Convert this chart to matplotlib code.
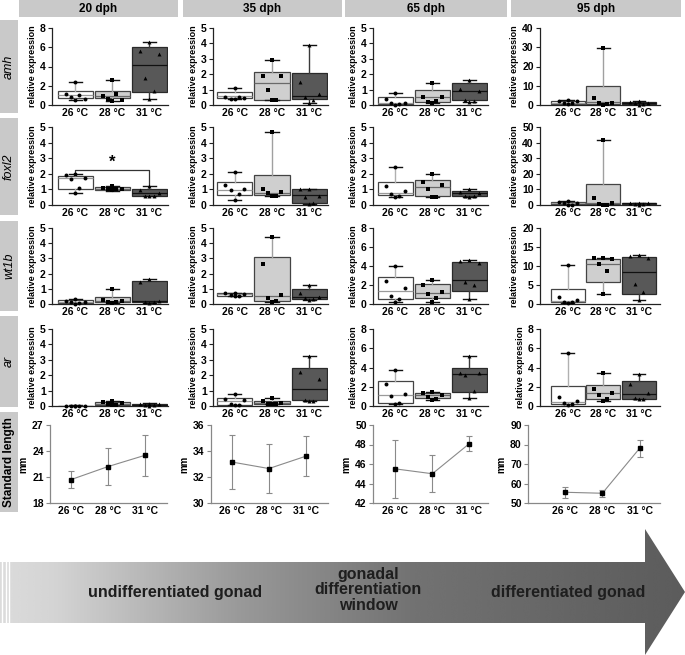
import numpy as np
import matplotlib.pyplot as plt
from matplotlib.patches import Polygon, Rectangle

plt.rcParams['font.family'] = ['Liberation Sans', 'DejaVu Sans']

W, H = 685, 655

ages = ['20 dph', '35 dph', '65 dph', '95 dph']
genes = ['amh', 'foxl2', 'wt1b', 'ar']
temps = ['26 °C', '28 °C', '31 °C']

# box stats per age, per temperature: (whisker low, q1, median, q3, whisker high)
amh_box = [
    [(0.55, 0.75, 1.0, 1.5, 2.4), (0.45, 0.7, 0.95, 1.5, 2.55), (0.65, 1.4, 4.15, 6.0, 6.5)],
    [(0.4, 0.45, 0.6, 0.85, 1.1), (0.3, 0.3, 1.45, 2.15, 2.9), (0.15, 0.4, 0.6, 2.1, 3.9)],
    [(0.0, 0.05, 0.15, 0.5, 0.8), (0.15, 0.2, 0.55, 1.0, 1.4), (0.2, 0.3, 0.9, 1.4, 1.65)],
    [(0.0, 0.5, 1.0, 2.2, 2.5), (0.0, 0.5, 1.5, 10.0, 29.5), (0.2, 0.5, 1.0, 1.5, 2.3)],
]
amh_pts = [
    [[2.4, 1.1, 0.6, 0.8, 1.0, 0.55], [2.55, 0.9, 0.5, 0.6, 1.1, 0.45], [6.5, 5.6, 5.3, 2.8, 1.5, 0.65]],
    [[1.1, 0.55, 0.45, 0.4, 0.5, 0.4], [2.9, 1.9, 1.9, 1.0, 0.3, 0.3], [3.9, 1.5, 0.7, 0.55, 0.3, 0.15]],
    [[0.8, 0.4, 0.15, 0.1, 0.05, 0.0], [1.4, 0.55, 0.5, 0.2, 0.25, 0.15], [1.65, 1.05, 0.9, 0.3, 0.25, 0.2]],
    [[2.5, 2.3, 2.0, 1.0, 0.8, 0.5], [29.5, 3.8, 1.2, 1.0, 0.5, 0.2], [2.3, 1.5, 1.0, 0.8, 0.3, 0.2]],
]
amh_ymax = [8, 5, 5, 40]
amh_step = [2, 1, 1, 10]

foxl2_box = [
    [(0.8, 1.05, 1.75, 1.85, 2.0), (0.9, 0.95, 1.0, 1.15, 1.2), (0.55, 0.55, 0.75, 1.0, 1.2)],
    [(0.3, 0.65, 0.95, 1.5, 2.1), (0.6, 0.65, 0.8, 1.9, 4.7), (0.05, 0.15, 0.65, 1.0, 1.05)],
    [(0.5, 0.65, 0.8, 1.5, 2.45), (0.5, 0.55, 1.15, 1.6, 2.0), (0.5, 0.55, 0.75, 0.9, 1.0)],
    [(0.0, 0.5, 1.0, 1.8, 2.5), (0.0, 0.5, 1.0, 13.5, 41.5), (0.0, 0.5, 1.0, 1.5, 1.5)],
]
foxl2_pts = [
    [[2.0, 1.9, 1.7, 1.65, 1.1, 0.8], [1.2, 1.1, 1.05, 1.0, 1.0, 0.95], [1.2, 0.95, 0.75, 0.6, 0.55, 0.55]],
    [[2.1, 1.3, 1.0, 0.95, 0.7, 0.3], [4.7, 1.0, 0.85, 0.8, 0.6, 0.6], [1.05, 1.0, 0.6, 0.5, 0.1, 0.05]],
    [[2.45, 1.2, 0.9, 0.7, 0.55, 0.5], [2.0, 1.5, 1.3, 1.0, 0.5, 0.5], [1.0, 0.85, 0.75, 0.6, 0.55, 0.5]],
    [[2.5, 1.8, 1.5, 1.0, 0.3, 0.0], [41.5, 4.5, 1.5, 0.5, 0.2, 0.0], [1.5, 1.2, 1.0, 0.9, 0.5, 0.3]],
]
foxl2_ymax = [5, 5, 5, 50]
foxl2_step = [1, 1, 1, 10]

wt1b_box = [
    [(0.0, 0.05, 0.15, 0.25, 0.3), (0.05, 0.1, 0.2, 0.45, 1.0), (0.05, 0.1, 0.2, 1.5, 1.65)],
    [(0.5, 0.55, 0.65, 0.75, 0.75), (0.1, 0.2, 0.55, 3.1, 4.4), (0.25, 0.3, 0.45, 1.0, 1.25)],
    [(0.2, 0.5, 1.35, 2.8, 4.0), (0.2, 0.6, 1.15, 2.1, 2.55), (0.5, 1.35, 2.5, 4.45, 4.6)],
    [(0.2, 0.4, 0.8, 4.0, 10.3), (2.6, 5.7, 10.4, 11.9, 12.1), (1.0, 2.6, 8.5, 12.4, 13.0)],
]
wt1b_pts = [
    [[0.3, 0.2, 0.15, 0.1, 0.05, 0.0], [1.0, 0.25, 0.2, 0.15, 0.1, 0.05], [1.65, 1.45, 0.2, 0.15, 0.1, 0.05]],
    [[0.75, 0.7, 0.65, 0.6, 0.55, 0.5], [4.4, 2.65, 0.6, 0.4, 0.2, 0.1], [1.25, 0.75, 0.45, 0.4, 0.3, 0.25]],
    [[4.0, 2.4, 1.7, 0.8, 0.5, 0.2], [2.55, 2.0, 1.3, 1.0, 0.6, 0.2], [4.6, 4.5, 4.3, 2.3, 2.0, 0.5]],
    [[10.3, 1.9, 1.0, 0.5, 0.4, 0.2], [12.1, 12.0, 11.8, 10.4, 8.8, 2.6], [13.0, 12.5, 12.2, 5.2, 3.1, 1.0]],
]
wt1b_ymax = [5, 5, 8, 20]
wt1b_step = [1, 1, 2, 5]

ar_box = [
    [(0.0, 0.0, 0.01, 0.03, 0.04), (0.05, 0.05, 0.15, 0.25, 0.3), (0.02, 0.02, 0.08, 0.15, 0.18)],
    [(0.05, 0.05, 0.35, 0.55, 0.75), (0.1, 0.1, 0.2, 0.35, 0.55), (0.3, 0.4, 1.1, 2.5, 3.25)],
    [(0.25, 0.35, 1.1, 2.6, 3.7), (0.65, 0.8, 1.1, 1.3, 1.45), (0.85, 1.5, 3.35, 3.9, 5.2)],
    [(0.05, 0.25, 0.45, 2.05, 5.55), (0.5, 0.75, 1.3, 2.2, 3.45), (0.7, 0.75, 1.2, 2.55, 3.3)],
]
ar_pts = [
    [[0.03, 0.02, 0.02, 0.01, 0.01, 0.0], [0.3, 0.25, 0.2, 0.1, 0.05, 0.05], [0.15, 0.1, 0.1, 0.05, 0.05, 0.02]],
    [[0.75, 0.45, 0.4, 0.1, 0.05, 0.05], [0.55, 0.3, 0.2, 0.15, 0.1, 0.1], [3.25, 2.2, 1.75, 0.4, 0.35, 0.3]],
    [[3.7, 2.25, 1.2, 1.0, 0.35, 0.25], [1.45, 1.3, 1.15, 0.9, 0.75, 0.65], [5.2, 3.45, 3.4, 3.2, 1.6, 0.85]],
    [[5.55, 0.9, 0.5, 0.3, 0.2, 0.1], [3.45, 1.8, 1.3, 1.1, 0.7, 0.55], [3.3, 2.3, 1.3, 0.8, 0.75, 0.7]],
]
ar_ymax = [5, 5, 8, 8]
ar_step = [1, 1, 2, 2]

# standard length (mm): mean and error
sl_mean = [[20.7, 22.2, 23.5], [33.15, 32.65, 33.6], [45.5, 45.0, 48.1], [55.5, 55.0, 78.0]]
sl_err = [[1.0, 2.1, 2.4], [2.05, 1.9, 1.55], [3.0, 1.9, 0.75], [2.9, 1.8, 4.5]]
sl_ylim = [(18, 27), (30, 36), (42, 50), (50, 90)]
sl_step = [3, 2, 2, 10]

# significance bracket in foxl2 20 dph
sig_bracket = [(1, 2.04), (1, 2.25), (3, 2.25), (3, 1.18)]
sig_star = (2, 2.72)

arrow_texts = ['undifferentiated gonad', 'gonadal\ndifferentiation\nwindow', 'differentiated gonad']

# ---- styling
BOX_FC = ['white', '#cfcfcf', '#585858']
BOX_EC = ['#444444', '#444444', '#2a2a2a']
MED_C = ['#9a9a9a', '#6a6a6a', '#111111']
WHIS_C = ['#b0b0b0', '#a0a0a0', '#3a3a3a']
MARKS = ['o', 's', '^']
JIT = np.array([0.0, -0.25, 0.25, -0.11, 0.11, 0.0])
GREY = '#c9c9c9'

fig = plt.figure(figsize=(W / 100, H / 100), dpi=100)


def px_axes(left, top, right, bottom, **kw):
    return fig.add_axes([left / W, 1 - bottom / H, (right - left) / W, (bottom - top) / H], **kw)


deco = px_axes(0, 0, W, H)
deco.set_xlim(0, W)
deco.set_ylim(H, 0)
deco.axis('off')

# column headers
head_x = [(19, 178), (183, 342), (345, 507), (511, 681)]
for (x0, x1), age in zip(head_x, ages):
    deco.add_patch(Rectangle((x0, 0), x1 - x0, 17, color=GREY, lw=0))
    deco.text((x0 + x1) / 2, 9, age, ha='center', va='center', fontsize=8.5, fontweight='bold')

# row labels
row_y = [(20, 113), (118, 215), (221, 311), (316, 407), (412, 512)]
for i, (y0, y1) in enumerate(row_y):
    deco.add_patch(Rectangle((0, y0), 18, y1 - y0, color=GREY, lw=0))
    if i < 4:
        deco.text(9, (y0 + y1) / 2, genes[i], rotation=90, ha='center', va='center',
                  fontsize=9, fontstyle='italic')
    else:
        deco.text(9, (y0 + y1) / 2, 'Standard length', rotation=90, ha='center', va='center',
                  fontsize=8.5, fontweight='bold')

# gradient arrow
arrow = Polygon([(0, 562), (645, 562), (645, 529), (685, 592), (645, 655), (645, 623), (0, 623)],
                closed=True, facecolor='none', edgecolor='none')
deco.add_patch(arrow)
grad = np.interp(np.linspace(0, 1, 400), [0, 0.08, 0.35, 0.6, 1.0], [0.86, 0.83, 0.6, 0.45, 0.36])
img = deco.imshow(grad[None, :], cmap='gray', vmin=0, vmax=1, aspect='auto',
                  extent=[0, 685, 655, 529], interpolation='bicubic')
img.set_clip_path(arrow)
deco.set_xlim(0, W)
deco.set_ylim(H, 0)
for sx in [2.5, 6, 9.5]:
    deco.plot([sx, sx], [562, 623], color='white', lw=1.0)
deco.text(175, 592, arrow_texts[0], ha='center', va='center', fontsize=11.5,
          fontweight='bold', color='#1e1e1e')
deco.text(368, 590, arrow_texts[1], ha='center', va='center', fontsize=11.5,
          fontweight='bold', color='#1e1e1e', linespacing=1.05)
deco.text(568, 592, arrow_texts[2], ha='center', va='center', fontsize=11.5,
          fontweight='bold', color='#1e1e1e')

# plot axes layout
box_left = [52, 213, 373, 540]
box_width = [116, 115, 115, 120]
box_xlim = [(0.37, 3.5), (0.42, 3.5), (0.4, 3.5), (0.23, 3.58)]
rows = [(28, 105), (127, 205), (228, 304), (329, 406), (425, 503)]


def style_axes(ax, spine_c):
    for s in ['top', 'right']:
        ax.spines[s].set_visible(False)
    for s in ['left', 'bottom']:
        ax.spines[s].set_color(spine_c)
        ax.spines[s].set_linewidth(0.9)
    ax.tick_params(axis='y', length=3, width=0.8, color=spine_c, pad=1.5, labelsize=7.5)
    ax.tick_params(axis='x', length=0, pad=2, labelsize=7.5)
    for lab in ax.get_xticklabels() + ax.get_yticklabels():
        lab.set_fontweight('bold')


gene_data = [
    (amh_box, amh_pts, amh_ymax, amh_step),
    (foxl2_box, foxl2_pts, foxl2_ymax, foxl2_step),
    (wt1b_box, wt1b_pts, wt1b_ymax, wt1b_step),
    (ar_box, ar_pts, ar_ymax, ar_step),
]

for r, (boxes, pts, ymax, step) in enumerate(gene_data):
    top, bot = rows[r]
    for c in range(4):
        ax = px_axes(box_left[c], top, box_left[c] + box_width[c], bot)
        for i in range(3):
            b = boxes[c][i]
            st = dict(whislo=b[0], q1=b[1], med=b[2], q3=b[3], whishi=b[4])
            ax.bxp([st], positions=[i + 1], widths=0.95, showfliers=False, patch_artist=True,
                   capwidths=0.35,
                   boxprops=dict(facecolor=BOX_FC[i], edgecolor=BOX_EC[i], linewidth=0.9),
                   medianprops=dict(color=MED_C[i], linewidth=0.9),
                   whiskerprops=dict(color=WHIS_C[i], linewidth=1.0),
                   capprops=dict(color='#111111', linewidth=1.0))
            y = np.array(pts[c][i])
            ax.scatter(i + 1 + JIT[:len(y)], y, s=8, marker=MARKS[i], color='black',
                       zorder=5, clip_on=False, linewidths=0)
        ax.set_xlim(*box_xlim[c])
        ax.set_ylim(0, ymax[c])
        ax.set_yticks(np.arange(0, ymax[c] + step[c] / 2, step[c]))
        ax.set_xticks([1, 2, 3])
        ax.set_xticklabels(temps)
        ax.set_ylabel('relative expression', fontsize=6.5, fontweight='bold', labelpad=2)
        style_axes(ax, '#222222')
        if r == 1 and c == 0:
            bx, by = zip(*sig_bracket)
            ax.plot(bx, by, color='#333333', lw=0.9, clip_on=False)
            ax.text(sig_star[0], sig_star[1], '*', ha='center', va='center',
                    fontsize=12, fontweight='bold')

# standard length
sl_left = [50, 211, 373, 528]
sl_width = [117, 117, 115, 132]
sl_xlim = [(0.43, 3.6), (0.43, 3.6), (0.4, 3.5), (0.0, 3.55)]
top, bot = rows[4]
for c in range(4):
    ax = px_axes(sl_left[c], top, sl_left[c] + sl_width[c], bot)
    ax.errorbar([1, 2, 3], sl_mean[c], yerr=sl_err[c], color='#8a8a8a', lw=0.8,
                ecolor='#8a8a8a', elinewidth=0.8, capsize=2.5, capthick=0.8,
                marker='s', ms=3, mfc='black', mec='black')
    ax.set_xlim(*sl_xlim[c])
    ax.set_ylim(*sl_ylim[c])
    ax.set_yticks(np.arange(sl_ylim[c][0], sl_ylim[c][1] + sl_step[c] / 2, sl_step[c]))
    ax.set_xticks([1, 2, 3])
    ax.set_xticklabels(temps)
    ax.set_ylabel('mm', fontsize=7, fontweight='bold', labelpad=3)
    style_axes(ax, '#888888')

fig.savefig('out.png', dpi=100)
